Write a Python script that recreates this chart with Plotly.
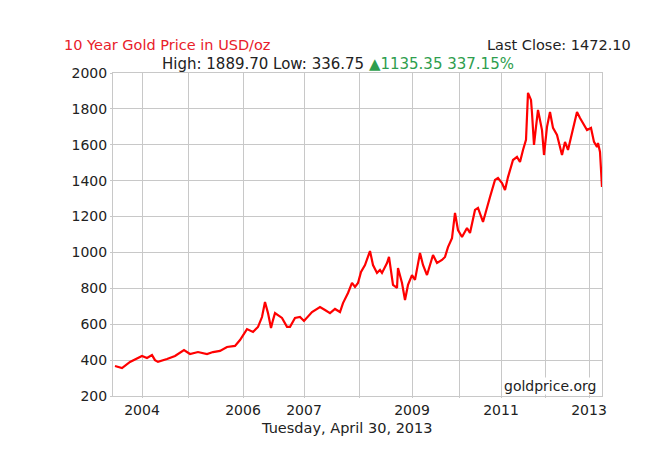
import plotly.graph_objects as go

# sample position along the chart (left edge = 0) and gold price, USD/oz
pos = [2, 9, 17, 29, 34, 39, 42, 45, 54, 62, 71, 77, 85, 94, 100, 107, 114, 122, 127,
       134, 140, 145, 149, 152, 155, 158, 160, 162, 169, 174, 177, 182, 187, 191, 199, 207,
       212, 217, 222, 227, 230, 235, 239, 242, 245, 248, 252, 257, 260, 264, 267, 269, 274, 276,
       280, 284, 285, 289, 292, 294, 295, 299, 302, 307, 310, 314, 320, 324, 329, 332, 335,
       339, 342, 345, 349, 354, 357, 362, 365, 370, 375,
       377, 382, 385, 389, 392, 395, 400, 404, 407, 410, 413, 415, 418, 419, 421, 423, 425,
       429, 431, 434, 437, 440, 444, 449, 452, 455, 460, 464, 467, 470, 474, 478, 481, 484,
       485, 487, 489]
price = [367, 356, 390, 423, 412, 428, 400, 390, 406, 423, 456, 434, 445, 434, 445, 451, 473, 479, 512,
         573, 557, 585, 640, 724, 662, 579, 623, 662, 635, 585, 585, 635, 640, 618, 668, 696,
         679, 662, 685, 668, 718, 774, 830, 808, 830, 891, 930, 1008, 930, 886, 902, 886, 941, 975,
         819, 802, 913, 830, 735, 791, 819, 874, 847, 997, 930, 874, 986, 941, 958, 975, 1030,
         1080, 1220, 1125, 1086, 1136, 1108, 1237, 1248, 1170, 1276,
         1309, 1404, 1415, 1387, 1348, 1420, 1515, 1532, 1504, 1571, 1627, 1889, 1850, 1777, 1599, 1700, 1794,
         1682, 1543, 1700, 1783, 1694, 1655, 1543, 1616, 1571, 1682, 1783, 1749, 1722, 1682, 1694, 1616,
         1588, 1610, 1560, 1365]

grid_pos = [29, 75, 130, 191, 246, 299, 346, 388, 432, 476]
grid_text = ["2004", "", "2006", "2007", "", "2009", "", "2011", "", "2013"]

FONT = "DejaVu Sans"
GRID = "#c8c8c8"

fig = go.Figure()
fig.add_trace(go.Scatter(x=pos, y=price, mode="lines",
                         line=dict(color="#ff0000", width=2.2), hoverinfo="y"))

fig.update_layout(
    width=661, height=453,
    margin=dict(l=105, r=67, t=65, b=65),
    paper_bgcolor="white", plot_bgcolor="white",
    showlegend=False,
    font=dict(family=FONT, size=14, color="#222222"),
    xaxis=dict(range=[0, 489], tickvals=grid_pos, ticktext=grid_text,
               showgrid=True, gridcolor=GRID, gridwidth=1,
               ticks="outside", ticklen=1, tickcolor=GRID,
               showline=True, linecolor=GRID, mirror=True, zeroline=False,
               tickfont=dict(size=14)),
    yaxis=dict(range=[200, 2000], dtick=200,
               showgrid=True, gridcolor=GRID, gridwidth=1,
               ticks="outside", ticklen=2, tickcolor=GRID,
               showline=True, linecolor=GRID, mirror=True, zeroline=False,
               tickfont=dict(size=14)),
    annotations=[
        dict(text="10 Year Gold Price in USD/oz", xref="paper", yref="paper",
             x=-0.104, y=1.087, xanchor="left", yanchor="middle", showarrow=False,
             font=dict(size=14.5, color="#e8202a")),
        dict(text="Last Close: 1472.10", xref="paper", yref="paper",
             x=1.063, y=1.087, xanchor="right", yanchor="middle", showarrow=False,
             font=dict(size=14.5, color="#222222")),
        dict(text="High: 1889.70 Low: 336.75 <span style='color:#2e9e4e'>▲1135.35 337.15%</span>",
             xref="paper", yref="paper", x=0.46, y=1.028, xanchor="center",
             yanchor="middle", showarrow=False, font=dict(size=15, color="#222222")),
        dict(text="Tuesday, April 30, 2013", xref="paper", yref="paper",
             x=0.4785, y=-0.099, xanchor="center", yanchor="middle", showarrow=False,
             font=dict(size=14.5, color="#222222")),
        dict(text="goldprice.org", xref="paper", yref="paper", x=0.99, y=0.031,
             xanchor="right", yanchor="middle", showarrow=False, bgcolor="white",
             borderpad=0, font=dict(size=14, color="#222222")),
    ],
)

fig.write_html("out.html")
